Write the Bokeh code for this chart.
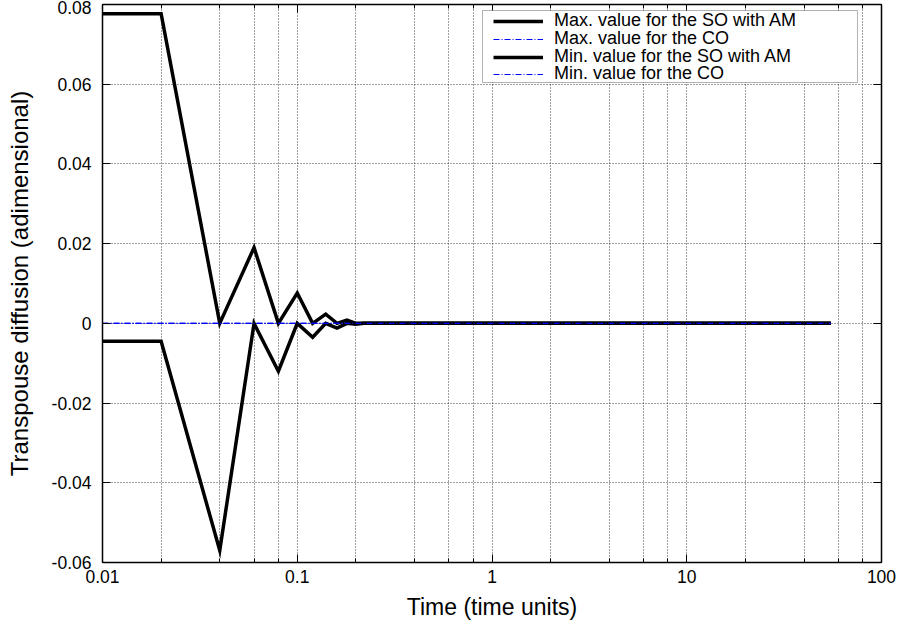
from bokeh.plotting import figure
from bokeh.models import (LogAxis, LinearAxis, FixedTicker, CustomJSTickFormatter,
                          Legend, LegendItem, BoxAnnotation, Range1d, ColumnDataSource)
from bokeh.embed import file_html
from bokeh.resources import INLINE

# ---- data ----
time = [0.01, 0.02, 0.04, 0.06, 0.08, 0.10, 0.12, 0.14, 0.16, 0.18, 0.20, 0.22, 55.0]
max_so = [0.0777, 0.0777, 0.0, 0.0190, 0.0, 0.0076, 0.0, 0.0023, 0.0, 0.0008, 0.0, 0.0, 0.0]
min_so = [-0.0045, -0.0045, -0.0570, 0.0, -0.0120, 0.0, -0.0035, 0.0, -0.0012, 0.0, -0.0002, 0.0, 0.0]
max_co = [0.0] * len(time)
min_co = [0.0] * len(time)

series_labels = ["Max. value for the SO with AM", "Max. value for the CO",
                 "Min. value for the SO with AM", "Min. value for the CO"]

x_major_ticks = [0.01, 0.1, 1, 10, 100]
x_major_labels = ["0.01", "0.1", "1", "10", "100"]
x_minor_ticks = [0.02, 0.04, 0.06, 0.08, 0.2, 0.4, 0.6, 0.8, 2, 4, 6, 8, 20, 40, 60, 80]
y_ticks = [-0.06, -0.04, -0.02, 0.0, 0.02, 0.04, 0.06, 0.08]
y_labels = ["-0.06", "-0.04", "-0.02", "0", "0.02", "0.04", "0.06", "0.08"]

FONT = "Liberation Sans"

src = ColumnDataSource(dict(t=time, max_so=max_so, min_so=min_so, max_co=max_co, min_co=min_co))

p = figure(width=900, height=626, x_axis_type="log",
           x_range=Range1d(0.01, 100), y_range=Range1d(-0.06, 0.08),
           output_backend="svg", toolbar_location=None,
           min_border_left=102, min_border_right=19, min_border_top=4, min_border_bottom=64)
p.outline_line_color = None
p.background_fill_color = "white"
p.border_fill_color = "white"

xticker = FixedTicker(ticks=x_major_ticks, minor_ticks=x_minor_ticks)
yticker = FixedTicker(ticks=y_ticks, minor_ticks=[])

# bottom axis
xa = p.xaxis[0]
xa.ticker = xticker
xa.major_label_overrides = {t: l for t, l in zip(x_major_ticks, x_major_labels)}
xa.axis_label = "Time (time units)"
# left axis
ya = p.yaxis[0]
ya.ticker = yticker
ya.major_label_overrides = {t: l for t, l in zip(y_ticks, y_labels)}
ya.axis_label = "Transpouse diffusion (adimensional)"

for ax in (xa, ya):
    ax.axis_label_text_font = FONT
    ax.axis_label_text_font_style = "normal"
    ax.axis_label_text_color = "black"
    ax.major_label_text_font = FONT
    ax.major_label_text_font_size = "17.5px"
    ax.major_label_text_color = "black"
    ax.axis_line_color = "black"
    ax.axis_line_width = 1.5
    ax.major_tick_in = 8
    ax.major_tick_out = 0
    ax.minor_tick_in = 4
    ax.minor_tick_out = 0
    ax.major_tick_line_color = "black"
    ax.minor_tick_line_color = "black"
xa.axis_label_text_font_size = "23px"
ya.axis_label_text_font_size = "24px"
xa.major_label_standoff = 7
xa.axis_label_standoff = 8
ya.major_label_standoff = 11
ya.axis_label_standoff = 16

# mirrored axes (ticks only) on top and right
blank = CustomJSTickFormatter(code="return ''")
top = LogAxis(ticker=xticker, formatter=blank)
right = LinearAxis(ticker=yticker, formatter=blank)
for ax in (top, right):
    ax.major_label_text_font_size = "0px"
    ax.major_label_standoff = 0
    ax.axis_line_color = "black"
    ax.axis_line_width = 1.5
    ax.major_tick_in = 8
    ax.major_tick_out = 0
    ax.minor_tick_in = 4
    ax.minor_tick_out = 0
p.add_layout(top, "above")
p.add_layout(right, "right")

# grids
p.xgrid.ticker = xticker
p.ygrid.ticker = yticker
for g in (p.xgrid[0], p.ygrid[0]):
    g.grid_line_color = "black"
    g.grid_line_alpha = 0.75
    g.grid_line_dash = "1 2"
    g.grid_line_width = 1
p.xgrid.minor_grid_line_color = "black"
p.xgrid.minor_grid_line_alpha = 0.75
p.xgrid.minor_grid_line_dash = "1 2"

# lines
r1 = p.line("t", "max_so", source=src, line_color="black", line_width=3.5, line_join="miter")
r2 = p.line("t", "max_co", source=src, line_color="#0000ff", line_width=1.2, line_dash="6 2 1 2")
r3 = p.line("t", "min_so", source=src, line_color="black", line_width=3.5, line_join="miter")
r4 = p.line("t", "min_co", source=src, line_color="#0000ff", line_width=1.2, line_dash="6 2 1 2")

# legend box
box = BoxAnnotation(left=482, right=857, top=10, bottom=82,
                    left_units="canvas", right_units="canvas",
                    top_units="canvas", bottom_units="canvas",
                    fill_color="white", fill_alpha=1.0,
                    line_color="black", line_width=1)
p.add_layout(box)

# one single-row legend per entry, so that rows can sit as tightly as in the reference
row_offsets = [531, 513, 495, 478]   # legend bottom, px above the frame's bottom edge
for lab, r, vy in zip(series_labels, [r1, r2, r3, r4], row_offsets):
    lg = Legend(items=[LegendItem(label=lab, renderers=[r])],
                location=(391, vy), padding=0, margin=0, spacing=0,
                glyph_width=50, glyph_height=16, label_height=16, label_width=280,
                label_standoff=11, label_text_font=FONT, label_text_font_size="18px",
                label_text_color="black",
                border_line_alpha=0, background_fill_alpha=0)
    p.add_layout(lg)

open("out.html", "w").write(file_html(p, INLINE))
